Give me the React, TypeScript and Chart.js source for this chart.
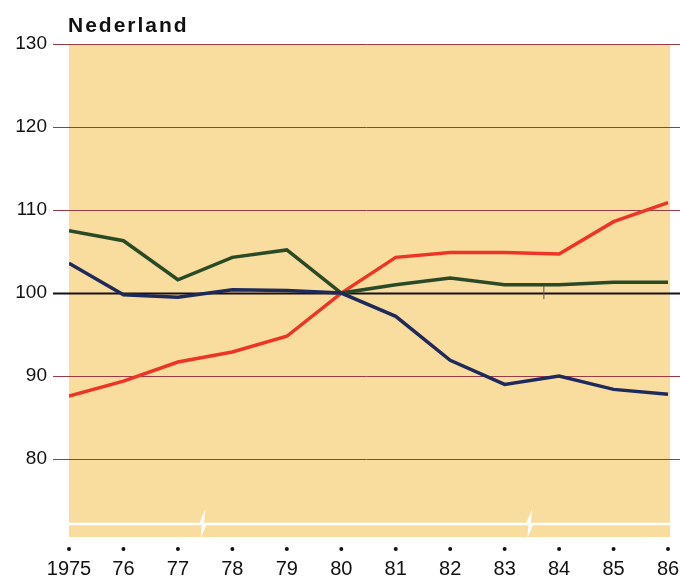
import React, { useEffect, useRef } from "react";
import { Chart, registerables } from "chart.js";

Chart.register(...registerables);

const title = "Nederland";
const years = ["1975", "76", "77", "78", "79", "80", "81", "82", "83", "84", "85", "86"];
const greenSeries = [107.5, 106.3, 101.6, 104.3, 105.2, 100, 101.0, 101.8, 101.0, 101.0, 101.3, 101.3];
const redSeries = [87.6, 89.4, 91.7, 92.9, 94.8, 100, 104.3, 104.9, 104.9, 104.7, 108.6, 110.9];
const blueSeries = [103.6, 99.8, 99.5, 100.4, 100.3, 100, 97.2, 91.9, 89.0, 90.0, 88.4, 87.8];
const yTicks = [80, 90, 100, 110, 120, 130];
const breakPositions = [2.45, 8.45];

const FONT = "Liberation Sans, Arial, Helvetica, sans-serif";

const toPoints = (vals: number[]) => vals.map((y, i) => ({ x: i, y }));

const decor = {
  id: "decor",
  beforeDatasetsDraw(chart: any) {
    const { ctx, chartArea, scales } = chart;
    const x = scales.x;
    const y = scales.y;
    const left = x.getPixelForValue(0);
    const right = x.getPixelForValue(years.length - 1) + 2;
    ctx.save();
    // background panel
    ctx.fillStyle = "#f9dd9f";
    ctx.fillRect(left, chartArea.top, right - left, chartArea.bottom - chartArea.top - 1);
    // grid lines
    yTicks.forEach((v) => {
      const py = Math.round(y.getPixelForValue(v)) + 0.5;
      ctx.beginPath();
      ctx.strokeStyle = v === 100 ? "#1a1010" : "#9a3a44";
      ctx.lineWidth = v === 100 ? 2 : 1;
      ctx.moveTo(chartArea.left - 16, py);
      ctx.lineTo(chart.width, py);
      ctx.stroke();
    });
    // axis break line
    const by = y.getPixelForValue(72.2);
    ctx.strokeStyle = "#ffffff";
    ctx.lineWidth = 2.5;
    ctx.beginPath();
    ctx.moveTo(left, by);
    breakPositions.forEach((b) => {
      const bx = x.getPixelForValue(b);
      ctx.lineTo(bx - 2, by);
      ctx.lineTo(bx + 1, by - 7);
      ctx.lineTo(bx, by + 7);
      ctx.lineTo(bx + 3, by);
    });
    ctx.lineTo(right, by);
    ctx.stroke();
    // small mark on the 100 line
    const mx = x.getPixelForValue(8.72);
    const my = y.getPixelForValue(100);
    ctx.strokeStyle = "#556";
    ctx.lineWidth = 1;
    ctx.beginPath();
    ctx.moveTo(mx, my - 9);
    ctx.lineTo(mx, my + 6);
    ctx.stroke();
    // dots above year labels
    ctx.fillStyle = "#111";
    years.forEach((_, i) => {
      ctx.beginPath();
      ctx.arc(x.getPixelForValue(i), chartArea.bottom + 11, 2, 0, Math.PI * 2);
      ctx.fill();
    });
    // title
    ctx.fillStyle = "#111";
    ctx.font = `bold 21px ${FONT}`;
    (ctx as any).letterSpacing = "2px";
    ctx.textAlign = "left";
    ctx.textBaseline = "alphabetic";
    ctx.fillText(title, chartArea.left - 1, chartArea.top - 12);
    ctx.restore();
  },
};

export default function App() {
  const ref = useRef<HTMLCanvasElement>(null);
  useEffect(() => {
    document.body.style.margin = "0";
    const line = (data: number[], color: string) => ({
      data: toPoints(data),
      borderColor: color,
      borderWidth: 3.5,
      pointRadius: 0,
      tension: 0,
      fill: false,
    });
    const chart = new Chart(ref.current as HTMLCanvasElement, {
      type: "line",
      data: {
        datasets: [
          line(blueSeries, "#1f2a5c"),
          line(greenSeries, "#2a4a26"),
          line(redSeries, "#ec3526"),
        ],
      },
      plugins: [decor],
      options: {
        animation: false,
        responsive: false,
        layout: { padding: { top: 44, right: 0, bottom: 0, left: 0 } },
        plugins: {
          legend: { display: false },
          tooltip: { enabled: false },
          title: { display: false },
        },
        scales: {
          x: {
            type: "linear",
            min: 0,
            max: 11.22,
            grid: { display: false, drawTicks: false },
            border: { display: false },
            afterBuildTicks: (axis: any) => {
              axis.ticks = years.map((_, i) => ({ value: i }));
            },
            afterFit: (axis: any) => {
              axis.height = 40;
              axis.paddingLeft = 0;
              axis.paddingRight = 0;
            },
            ticks: {
              padding: 19,
              autoSkip: false,
              maxRotation: 0,
              color: "#111",
              font: { family: FONT, size: 20 },
              callback: (v: any) => years[v as number] ?? "",
            },
          },
          y: {
            type: "linear",
            min: 70.5,
            max: 130,
            grid: { display: false, drawTicks: false },
            border: { display: false },
            afterBuildTicks: (axis: any) => {
              axis.ticks = yTicks.map((v) => ({ value: v }));
            },
            afterFit: (axis: any) => {
              axis.width = 69;
              axis.paddingTop = 0;
              axis.paddingBottom = 0;
            },
            ticks: {
              padding: 22,
              color: "#111",
              font: { family: FONT, size: 19 },
            },
          },
        },
      },
    } as any);
    return () => chart.destroy();
  }, []);
  return <canvas ref={ref} width={680} height={578} style={{ display: "block" }} />;
}
